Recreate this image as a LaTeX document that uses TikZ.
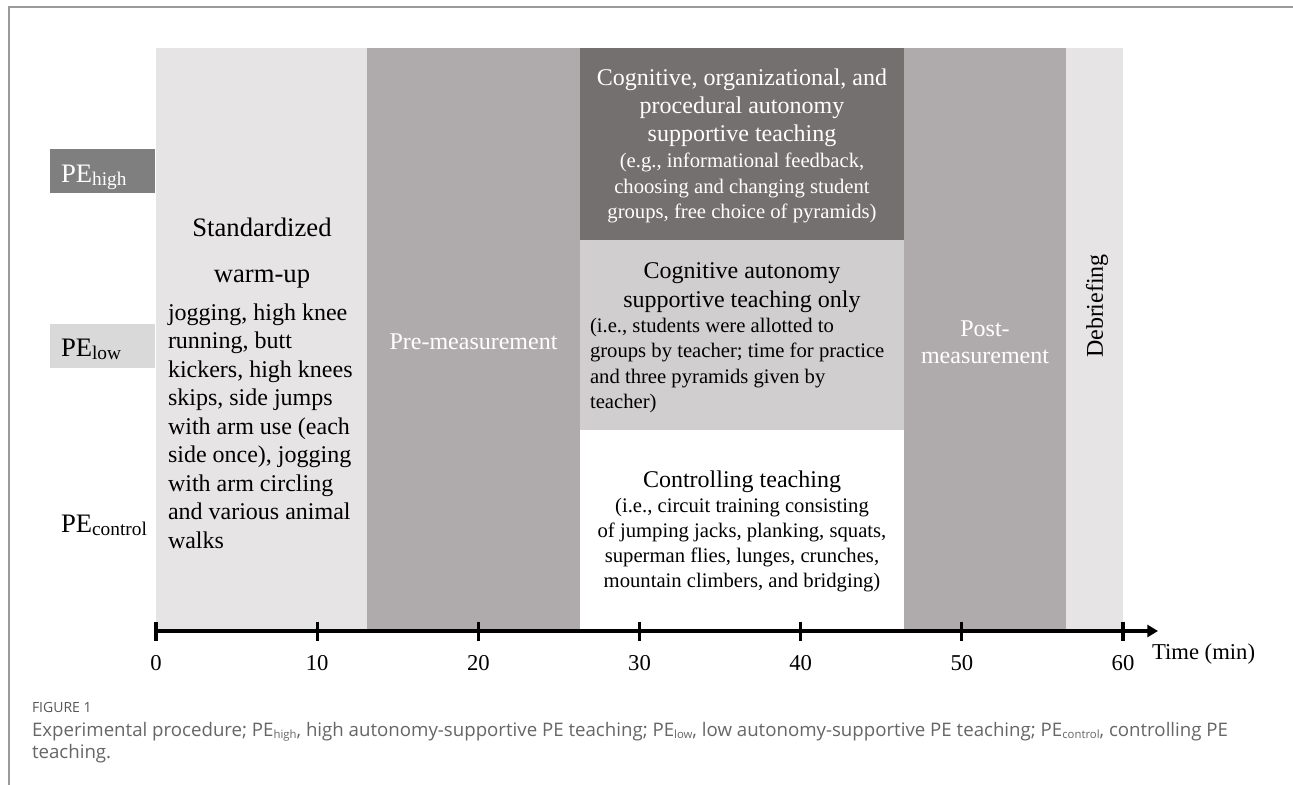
\documentclass[tikz,border=0pt]{standalone}
\usepackage{fontspec}
\setmainfont{Liberation Serif}
\newfontfamily\capfont{Open Sans}
\usetikzlibrary{arrows.meta}
\definecolor{warmcol}{HTML}{E6E4E5}
\definecolor{meascol}{HTML}{AFABAC}
\definecolor{darkcol}{HTML}{757070}
\definecolor{midcol}{HTML}{D0CECF}
\definecolor{pehighcol}{HTML}{7F7F7F}
\definecolor{pelowcol}{HTML}{D9D9D9}
\definecolor{bordercol}{HTML}{9A9A9A}
\definecolor{capgray}{HTML}{666666}
\newcommand\pesub[1]{\raisebox{-2.5pt}{\fontsize{14.5}{14.5}\selectfont #1}}
\newcommand\capsub[1]{\raisebox{-1.5pt}{\fontsize{8.5}{8.5}\selectfont #1}}
\begin{document}
\begin{tikzpicture}[x=0.75pt,y=-0.75pt,
  every node/.style={inner sep=0pt, outer sep=0pt},
  ttl/.style={font=\fontsize{18}{21}\selectfont, align=center},
  ptxt/.style={font=\fontsize{15.5}{18.9}\selectfont, align=center},
  bodytxt/.style={font=\fontsize{18}{21.4}\selectfont, align=left},
  big/.style={font=\fontsize{20}{24}\selectfont},
  petxt/.style={font=\fontsize{20}{24}\selectfont, anchor=base west},
  ticklab/.style={font=\fontsize{17}{20}\selectfont},
  axisline/.style={line width=2.3pt},
]
\useasboundingbox (0,0) rectangle (1293,785);
\fill[white] (0,0) rectangle (1293,785);
% figure frame
\draw[bordercol, line width=1.1pt] (9,785) -- (9,7) -- (1293,7);
% blocks
\fill[warmcol] (156,48) rectangle (367,629);
\fill[meascol] (367,48) rectangle (580,629);
\fill[darkcol] (580,48) rectangle (904,240);
\fill[midcol] (580,240) rectangle (904,430);
\fill[white] (580,430) rectangle (904,629);
\fill[meascol] (904,48) rectangle (1066,629);
\fill[warmcol] (1066,48) rectangle (1123,629);
% group label boxes
\fill[pehighcol] (50,149) rectangle (155,193);
\fill[pelowcol] (50,324) rectangle (155,368);
\node[petxt, text=white] (pehigh) at (61,182) {PE\pesub{high}};
\node[petxt] (pelow) at (61,356) {PE\pesub{low}};
\node[petxt] (pecontrol) at (61,532) {PE\pesub{control}};
% warm-up
\node[big] (std) at (262,227) {Standardized};
\node[big] (wu) at (262,279) {warm-up};
\node[bodytxt, anchor=west] (wubody) at (168,426) {jogging, high knee\\running, butt\\kickers, high knees\\skips, side jumps\\with arm use (each\\side once), jogging\\with arm circling\\and various animal\\walks};
% pre-measurement
\node[ttl, text=white] (pre) at (473.5,342) {Pre-measurement};
% high
\node[ttl, text=white] (hightitle) at (742,108) {Cognitive, organizational, and\\procedural autonomy\\supportive teaching};
\node[ptxt, text=white] (highpar) at (742,188) {(e.g., informational feedback,\\choosing and changing student\\groups, free choice of pyramids)};
% low
\node[ttl, font=\fontsize{18}{21.8}\selectfont] (lowtitle) at (742,287.5) {Cognitive autonomy\\supportive teaching only};
\node[ptxt, align=left, anchor=west] (lowpar) at (590,365.5) {(i.e., students were allotted to\\groups by teacher; time for practice\\and three pyramids given by\\teacher)};
% control
\node[ttl] (ctltitle) at (742,482) {Controlling teaching};
\node[ptxt] (ctlpar) at (742,545) {(i.e., circuit training consisting\\of jumping jacks, planking, squats,\\superman flies, lunges, crunches,\\mountain climbers, and bridging)};
% post
\node[ttl, text=white, font=\fontsize{18}{20}\selectfont] (post) at (985,342) {Post-\\measurement};
% debriefing
\node[ttl, rotate=90] (debrief) at (1097,306) {Debriefing};
% axis
\coordinate (axstart) at (154.5,631);
\coordinate (axend) at (1158,631);
\draw[axisline, -{Triangle[length=8pt,width=9pt]}] (axstart) -- (axend);
\foreach \k/\lab in {0/0,1/10,2/20,3/30,4/40,5/50,6/60}{
  \coordinate (t\k) at ({156+\k*161.17},631);
  \draw[axisline] ([yshift=7pt]t\k) -- ([yshift=-7.5pt]t\k);
  \node[ticklab] (l\k) at ({156+\k*161.17},663) {\lab};
}
\node[ticklab, anchor=west] (timelab) at (1152,654) {Time (min)};
% caption
\node[anchor=west, font=\capfont\fontsize{10.5}{11}\selectfont, text=capgray!85!black] (figlabel) at (32,707) {FIGURE 1};
\node[anchor=north west, align=left, font=\capfont\fontsize{14}{16.5}\selectfont, text=capgray] (caption) at (32,722) {Experimental procedure; PE\capsub{high}, high autonomy-supportive PE teaching; PE\capsub{low}, low autonomy-supportive PE teaching; PE\capsub{control}, controlling PE\\teaching.};
\end{tikzpicture}
\end{document}
